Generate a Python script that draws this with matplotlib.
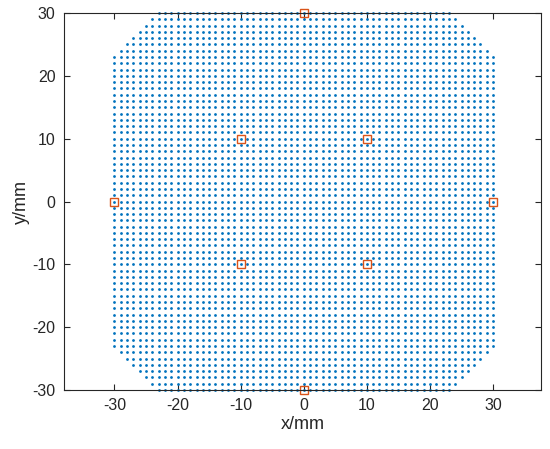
import numpy as np
import matplotlib
matplotlib.use('Agg')
import matplotlib.pyplot as plt

# grid of sample points (mm), corners clipped
grid_half = 30
grid_step = 1
corner_cut = 53

# reference points (mm)
ref_x = [0, 0, -30, 30, -10, 10, -10, 10]
ref_y = [30, -30, 0, 0, 10, 10, -10, -10]

xticks = [-30, -20, -10, 0, 10, 20, 30]
yticks = [-30, -20, -10, 0, 10, 20, 30]

g = np.arange(-grid_half, grid_half + grid_step, grid_step)
gx, gy = np.meshgrid(g, g)
keep = (np.abs(gx) + np.abs(gy)) <= corner_cut
px = gx[keep]
py = gy[keep]

plt.rcParams['font.family'] = ['Liberation Sans', 'DejaVu Sans']
plt.rcParams['axes.unicode_minus'] = False

fig = plt.figure(figsize=(5.5, 4.49), dpi=100)
ax = fig.add_axes([64 / 550, 59 / 449, 477 / 550, 377 / 449])

ax.plot(px, py, 'o', color='#0072BD', markersize=2.0, markeredgewidth=0,
        linestyle='none', clip_on=False)
ax.plot(ref_x, ref_y, 's', markerfacecolor='none', markeredgecolor='#D95319',
        markersize=6.0, markeredgewidth=1.0, linestyle='none', clip_on=False)

ax.set_xlim(-38, 37.6)
ax.set_ylim(-30, 30)
ax.set_xticks(xticks)
ax.set_yticks(yticks)
ax.tick_params(direction='in', top=True, right=True, length=4, width=0.8,
               colors='#262626', labelsize=11.5, pad=6)
for sp in ax.spines.values():
    sp.set_color('#262626')
    sp.set_linewidth(0.8)

ax.set_xlabel('x/mm', fontsize=13, color='#262626', labelpad=2)
ax.set_ylabel('y/mm', fontsize=13, color='#262626', labelpad=2)

fig.savefig('out.png', dpi=100)
